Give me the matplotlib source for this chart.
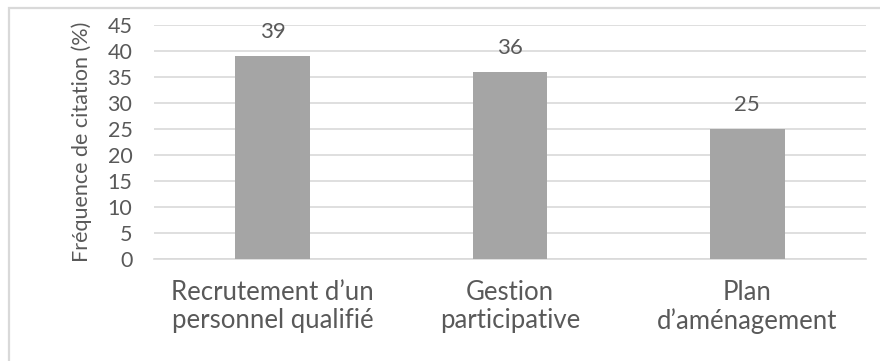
import matplotlib.pyplot as plt
from matplotlib.patches import Rectangle

categories = ["Recrutement d\u2019un\npersonnel qualifié", "Gestion\nparticipative", "Plan\nd\u2019aménagement"]
values = [39, 36, 25]
yticks = [0, 5, 10, 15, 20, 25, 30, 35, 40, 45]

txt = "#595959"
plt.rcParams['font.family'] = ['Lato', 'DejaVu Sans']

fig = plt.figure(figsize=(8.8, 3.61), dpi=100)
ax = fig.add_axes([0.175, 0.2817, 0.809, 0.65])

# light border of the chart area, running off the right and bottom edges
fig.patches.append(Rectangle((9 / 880, -0.1), 1.2, 1 - 8 / 361 + 0.1, transform=fig.transFigure,
                             fill=False, edgecolor="#d9d9d9", linewidth=1.6))

x = range(len(categories))
bars = ax.bar(x, values, width=0.314, color="#a5a5a5", zorder=3)
for b, v in zip(bars, values):
    ax.text(b.get_x() + b.get_width() / 2, v + 4.6, str(v), ha="center", va="center",
            fontsize=16, color=txt)

ax.set_xlim(-0.5, 2.5)
ax.set_ylim(0, 45)
ax.set_yticks(yticks)
ax.set_xticks(list(x))
ax.set_xticklabels(categories, fontsize=18.5, color=txt, linespacing=1.15)
ax.tick_params(axis="y", length=0, pad=15.5, labelsize=15.5, labelcolor=txt)
ax.tick_params(axis="x", length=0, pad=15)
ax.grid(axis="y", color="#d9d9d9", linewidth=1.2, zorder=0)
for s in ["top", "right", "left"]:
    ax.spines[s].set_visible(False)
ax.spines["bottom"].set_color("#d9d9d9")
ax.spines["bottom"].set_linewidth(1.2)
ax.set_ylabel("Fréquence de citation (%)", fontsize=15.5, color=txt, labelpad=11)

fig.savefig("out.png", dpi=100)
